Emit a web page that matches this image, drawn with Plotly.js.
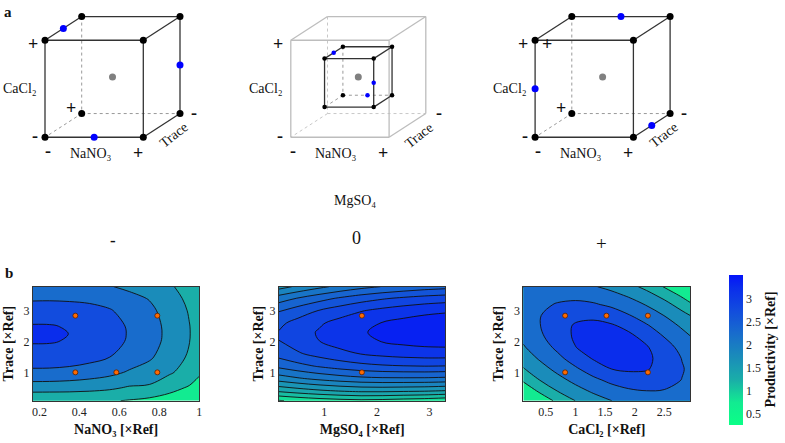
<!DOCTYPE html>
<html>
<head>
<meta charset="utf-8">
<script src="https://cdn.plot.ly/plotly-3.0.1.min.js"></script>
<style>html,body{margin:0;padding:0;background:#fff}#chart{width:785px;height:443px}</style>
</head>
<body>
<div id="chart"></div>
<script>
// ---------------- DATA ----------------
// Panel b, plot 1: Productivity vs NaNO3 (x) and Trace (y)
const p1X = [0.168, 0.25, 0.35, 0.45, 0.55, 0.65, 0.75, 0.85, 0.95, 1.0];
const p1Y = [0.08, 0.5, 1.0, 1.5, 2.0, 2.25, 2.5, 3.0, 3.4, 3.78];
const p1Z = [
  [1.033, 1.028, 1.05, 1.06, 1.04, 0.97, 0.88, 0.80, 0.72, 0.65],
  [1.741, 1.736, 1.711, 1.660, 1.584, 1.449, 1.417, 1.15, 0.95, 0.85],
  [2.386, 2.381, 2.341, 2.260, 2.139, 1.944, 1.807, 1.565, 1.286, 1.05],
  [2.816, 2.811, 2.761, 2.660, 2.509, 2.274, 2.067, 1.765, 1.436, 1.23],
  [3.031, 3.026, 2.971, 2.860, 2.694, 2.439, 2.197, 1.862, 1.511, 1.29],
  [3.058, 3.053, 2.997, 2.885, 2.717, 2.46, 2.213, 1.877, 1.52, 1.30],
  [3.028, 3.024, 2.970, 2.861, 2.698, 2.445, 2.202, 1.869, 1.514, 1.294],
  [2.788, 2.789, 2.750, 2.671, 2.543, 2.325, 2.112, 1.804, 1.464, 1.249],
  [2.423, 2.431, 2.415, 2.382, 2.307, 2.143, 1.975, 1.705, 1.388, 1.181],
  [2.1, 2.1, 2.1, 2.08, 2.03, 1.898, 1.792, 1.573, 1.286, 1.089]
];
const p1PtsX = [0.38, 0.79, 0.38, 0.585, 0.79];
const p1PtsY = [2.84, 2.84, 1.0, 1.0, 1.0];

// plot 2: Productivity vs MgSO4 (x) and Trace (y)
const p2X = [0.14, 0.5, 0.9, 1.3, 1.7, 2.1, 2.5, 2.9, 3.3];
const p2Y = [0.08, 0.4, 0.8, 1.2, 1.6, 2.0, 2.3, 2.6, 3.0, 3.4, 3.78];
const p2Z = [
  [0.731, 0.803, 0.868, 0.914, 0.941, 0.925, 0.888, 0.859, 0.809],
  [1.298, 1.380, 1.458, 1.517, 1.556, 1.559, 1.542, 1.525, 1.489],
  [1.876, 1.972, 2.064, 2.136, 2.190, 2.214, 2.218, 2.216, 2.195],
  [2.311, 2.418, 2.522, 2.607, 2.673, 2.715, 2.738, 2.749, 2.741],
  [2.601, 2.718, 2.833, 2.928, 3.006, 3.062, 3.100, 3.123, 3.127],
  [2.748, 2.873, 2.996, 3.101, 3.188, 3.256, 3.306, 3.339, 3.353],
  [2.763, 2.893, 3.023, 3.134, 3.226, 3.301, 3.358, 3.397, 3.418],
  [2.698, 2.832, 2.966, 3.082, 3.179, 3.259, 3.321, 3.366, 3.392],
  [2.484, 2.623, 2.762, 2.883, 2.986, 3.069, 3.135, 3.186, 3.218],
  [2.127, 2.268, 2.410, 2.535, 2.642, 2.725, 2.792, 2.847, 2.884],
  [1.654, 1.796, 1.940, 2.067, 2.176, 2.257, 2.321, 2.379, 2.419]
];
const p2PtsX = [1.715, 1.715];
const p2PtsY = [2.84, 1.0];

// plot 3: Productivity vs CaCl2 (x) and Trace (y)
const p3X = [0.12, 0.4, 0.7, 1.0, 1.3, 1.6, 1.9, 2.2, 2.5, 2.8, 2.94];
const p3Y = [0.08, 0.4, 0.75, 1.1, 1.45, 1.8, 2.15, 2.5, 2.85, 3.2, 3.5, 3.78];
const p3Z = [
  [0.405, 0.725, 1.098, 1.506, 1.768, 1.993, 2.147, 2.238, 2.255, 2.195, 2.144],
  [0.707, 1.076, 1.519, 1.818, 2.079, 2.282, 2.429, 2.497, 2.473, 2.362, 2.286],
  [1.061, 1.508, 1.839, 2.134, 2.387, 2.616, 2.780, 2.813, 2.703, 2.487, 2.382],
  [1.458, 1.799, 2.127, 2.419, 2.727, 2.994, 3.059, 3.031, 2.844, 2.537, 2.400],
  [1.726, 2.056, 2.373, 2.720, 3.034, 3.166, 3.194, 3.086, 2.850, 2.485, 2.338],
  [1.948, 2.257, 2.598, 2.987, 3.167, 3.333, 3.221, 3.048, 2.719, 2.358, 2.207],
  [2.108, 2.407, 2.769, 3.062, 3.209, 3.236, 3.105, 2.870, 2.492, 2.172, 2.023],
  [2.207, 2.486, 2.821, 3.046, 3.109, 3.068, 2.890, 2.561, 2.255, 1.940, 1.775],
  [2.239, 2.480, 2.736, 2.899, 2.914, 2.774, 2.527, 2.269, 1.989, 1.656, 1.495],
  [2.200, 2.390, 2.541, 2.609, 2.557, 2.413, 2.215, 1.972, 1.671, 1.290, 1.071],
  [2.113, 2.257, 2.348, 2.358, 2.286, 2.143, 1.942, 1.680, 1.344, 0.923, 0.750],
  [1.994, 2.100, 2.150, 2.129, 2.039, 1.877, 1.659, 1.363, 0.970, 0.623, 0.465]
];
const p3PtsX = [0.826, 1.524, 2.224, 0.826, 2.224];
const p3PtsY = [2.84, 2.84, 2.84, 1.0, 1.0];

// colour bar range and ticks
const cbMin = 0.27, cbMax = 3.52;
const cbTicks = [0.5, 1, 1.5, 2, 2.5, 3];
const cbTickText = ['0.5', '1', '1.5', '2', '2.5', '3'];

// axis ticks
const p1XTicks = [0.2, 0.4, 0.6, 0.8, 1];
const p1XTickText = ['0.2', '0.4', '0.6', '0.8', '1'];
const p2XTicks = [1, 2, 3];
const p3XTicks = [0.5, 1, 1.5, 2, 2.5];
const p3XTickText = ['0.5', '1', '1.5', '2', '2.5'];
const traceTicks = [1, 2, 3];

// Panel a: design cube (coded levels -1/0/+1 for NaNO3, CaCl2, Trace)
const cubeCorners = [[-1,-1,-1],[1,-1,-1],[1,1,-1],[-1,1,-1],[-1,-1,1],[1,-1,1],[1,1,1],[-1,1,1]];
const cubeEdges = [[0,1],[1,2],[2,3],[3,0],[4,5],[5,6],[6,7],[7,4],[0,4],[1,5],[2,6],[3,7]];
const centerPoint = [[0,0,0]];
const cube1Blue = [[-1,1,0],[1,0,-1],[0,-1,1]];
const cube2Blue = [[-0.5,0.5,0],[0.5,0,0.5],[0,-0.5,-0.5]];
const cube3Blue = [[0,1,-1],[-1,0,1],[1,-1,0]];

// ---------------- STYLE / HELPERS ----------------
const SERIF = '"Liberation Serif", "Times New Roman", serif';
const CMAP = [
  [0.00, [10, 255, 135]], [0.15, [18, 235, 145]], [0.30, [26, 174, 168]],
  [0.455, [26, 140, 186]], [0.61, [24, 108, 204]], [0.765, [18, 76, 222]],
  [0.92, [10, 44, 236]], [1.00, [4, 20, 250]]
];
function globalColor(v) {
  let f = (v - cbMin) / (cbMax - cbMin);
  f = Math.max(0, Math.min(1, f));
  for (let i = 1; i < CMAP.length; i++) {
    if (f <= CMAP[i][0]) {
      const a = CMAP[i-1], b = CMAP[i], t = (f - a[0]) / (b[0] - a[0]);
      const c = a[1].map((u, k) => Math.round(u + (b[1][k] - u) * t));
      return 'rgb(' + c.join(',') + ')';
    }
  }
  return 'rgb(' + CMAP[CMAP.length-1][1].join(',') + ')';
}
function bandScale(start, end, size) {
  const lo = start - size / 2, hi = end + size / 2, s = [];
  for (let i = 0; i <= 60; i++) { const f = i / 60; s.push([f, globalColor(lo + f * (hi - lo))]); }
  return s;
}
function barScale() {
  const s = [];
  for (let i = 0; i <= 60; i++) { const f = i / 60; s.push([f, globalColor(cbMin + f * (cbMax - cbMin))]); }
  return s;
}

// cube projection (oblique) into pixel frame
const HW = 49.15, HH = 48.5, DX = 18.35, DY = 11.85;
const CUBE_CX = [112.5, 358.3, 602.6], CUBE_CY = 76.9;
function proj(ci, p, sc) {
  return [CUBE_CX[ci] + p[0] * sc * HW - p[2] * sc * DX, CUBE_CY - p[1] * sc * HH + p[2] * sc * DY];
}
function edgeTrace(ci, sc, hidden, color, width, dash) {
  const xs = [], ys = [];
  cubeEdges.forEach(e => {
    const isHidden = (e[0] === 0 || e[1] === 0);
    if (isHidden !== hidden) return;
    const a = proj(ci, cubeCorners[e[0]], sc), b = proj(ci, cubeCorners[e[1]], sc);
    xs.push(a[0], b[0], null); ys.push(a[1], b[1], null);
  });
  return {type:'scatter', mode:'lines', x:xs, y:ys, xaxis:'x4', yaxis:'y4',
    line:{color:color, width:width, dash:dash}, hoverinfo:'skip', showlegend:false};
}
function pointTrace(ci, pts, sc, color, size) {
  const P = pts.map(p => proj(ci, p, sc));
  return {type:'scatter', mode:'markers', x:P.map(p=>p[0]), y:P.map(p=>p[1]), xaxis:'x4', yaxis:'y4',
    marker:{color:color, size:size, line:{width:0}}, hoverinfo:'skip', showlegend:false};
}

const traces = [];
function contourTrace(x, y, z, start, end, size, xa, ya) {
  return {type:'contour', x:x, y:y, z:z, xaxis:xa, yaxis:ya, autocontour:false,
    contours:{start:start, end:end, size:size, coloring:'fill', showlines:true},
    line:{color:'#111', width:0.9, smoothing:1},
    colorscale:bandScale(start, end, size), showscale:false, hoverinfo:'skip'};
}
function dotTrace(x, y, xa, ya) {
  return {type:'scatter', mode:'markers', x:x, y:y, xaxis:xa, yaxis:ya,
    marker:{size:5, color:'#ff6a00', line:{color:'#5a2000', width:0.8}}, hoverinfo:'skip', showlegend:false};
}
traces.push(contourTrace(p1X, p1Y, p1Z, 1.0, 3.0, 0.5, 'x', 'y'));
traces.push(dotTrace(p1PtsX, p1PtsY, 'x', 'y'));
traces.push(contourTrace(p2X, p2Y, p2Z, 0.75, 3.25, 0.25, 'x2', 'y2'));
traces.push(dotTrace(p2PtsX, p2PtsY, 'x2', 'y2'));
traces.push(contourTrace(p3X, p3Y, p3Z, 1.0, 3.0, 0.5, 'x3', 'y3'));
traces.push(dotTrace(p3PtsX, p3PtsY, 'x3', 'y3'));

// colour bar carrier (invisible markers)
traces.push({type:'scatter', mode:'markers', x:[0.5, 0.5], y:[2, 2], xaxis:'x', yaxis:'y',
  marker:{size:1, opacity:0, color:[cbMin, cbMax], cmin:cbMin, cmax:cbMax,
    colorscale:barScale(), showscale:true,
    colorbar:{x:729/785, xanchor:'left', xpad:0, thickness:14, thicknessmode:'pixels',
      len:149.6/443, lenmode:'fraction', y:1-349.5/443, yanchor:'middle', ypad:0,
      outlinewidth:0, ticks:'', tickvals:cbTicks, ticktext:cbTickText,
      tickfont:{family:SERIF, size:12, color:'#222'},
      title:{text:'<b>Productivity [×Ref]</b>', side:'right', font:{family:SERIF, size:14, color:'#111'}}}},
  hoverinfo:'skip', showlegend:false});

// cubes
traces.push(edgeTrace(0, 1, true, '#999', 1, 'dot'));
traces.push(edgeTrace(0, 1, false, '#333', 1.3, 'solid'));
traces.push(pointTrace(0, centerPoint, 1, '#808080', 7));
traces.push(pointTrace(0, cubeCorners, 1, '#000', 7));
traces.push(pointTrace(0, cube1Blue, 1, '#0000ff', 7));
traces.push(edgeTrace(1, 1, true, '#c8c8c8', 1, 'dot'));
traces.push(edgeTrace(1, 1, false, '#bdbdbd', 1.3, 'solid'));
traces.push(edgeTrace(1, 0.5, true, '#999', 1, 'dot'));
traces.push(edgeTrace(1, 0.5, false, '#333', 1.3, 'solid'));
traces.push(pointTrace(1, centerPoint, 1, '#808080', 7));
traces.push(pointTrace(1, cubeCorners, 0.5, '#000', 4.5));
traces.push(pointTrace(1, cube2Blue, 1, '#0000ff', 4.5));
traces.push(edgeTrace(2, 1, true, '#999', 1, 'dot'));
traces.push(edgeTrace(2, 1, false, '#333', 1.3, 'solid'));
traces.push(pointTrace(2, centerPoint, 1, '#808080', 7));
traces.push(pointTrace(2, cubeCorners, 1, '#000', 7));
traces.push(pointTrace(2, cube3Blue, 1, '#0000ff', 7));

// ---------------- LAYOUT ----------------
function ax(domain, range, tickvals, ticktext, title, standoff, anchor) {
  const a = {domain:domain, range:range, anchor:anchor, tickvals:tickvals, ticktext:ticktext,
    showline:true, mirror:true, linecolor:'#333', linewidth:1, ticks:'', showgrid:false, zeroline:false,
    tickfont:{family:SERIF, size:12, color:'#222'}, fixedrange:true};
  if (title) a.title = {text:title, font:{family:SERIF, size:14, color:'#111'}, standoff:standoff};
  return a;
}
const yDom = [1 - 400.7/443, 1 - 286.7/443];
const yRange = [0.08, 3.78];
const traceTitle = '<b>Trace [×Ref]</b>';

const ann = [];
function txt(x, y, text, size, opts) {
  ann.push(Object.assign({x:x, y:y, xref:'x4', yref:'y4', text:text, showarrow:false,
    font:{family:SERIF, size:size, color:'#111'}, xanchor:'center', yanchor:'middle'}, opts || {}));
}
CUBE_CX.forEach((cx, i) => {
  txt(cx - 80, 43.5, '<b>+</b>', 18);
  txt(cx - 78, 135.5, '<b>-</b>', 18);
  txt(cx - 111.5, 88, 'CaCl₂', 14, {xanchor:'left'});
  txt(cx - 65, 151, '<b>-</b>', 18);
  txt(cx - 22, 153.5, 'NaNO₃', 14);
  txt(cx + 25, 152.5, '<b>+</b>', 18);
  txt(cx + 60.5, 135, 'Trace', 14, {textangle:-38});
  txt(cx + 81, 112.5, '<b>-</b>', 18);
});
txt(CUBE_CX[0] - 41.5, 108.3, '<b>+</b>', 18);
txt(CUBE_CX[2] - 41.5, 108.3, '<b>+</b>', 18);
txt(CUBE_CX[2] - 56, 43.5, '<b>+</b>', 18);
txt(8.3, 11.5, '<b>a</b>', 15);
txt(9.3, 273, '<b>b</b>', 15);
txt(355, 200, 'MgSO₄', 14);
txt(112.7, 240, '<b>-</b>', 17);
txt(356.7, 238, '0', 18);
txt(601.7, 243.5, '+', 19);

const layout = {
  width:785, height:443, margin:{l:0, r:0, t:0, b:0},
  paper_bgcolor:'#fff', plot_bgcolor:'rgba(0,0,0,0)', showlegend:false,
  font:{family:SERIF, color:'#111'},
  xaxis: ax([33/785, 199.3/785], [0.168, 1.0], p1XTicks, p1XTickText, '<b>NaNO₃ [×Ref]</b>', 6, 'y'),
  yaxis: ax(yDom, yRange, traceTicks, ['1','2','3'], traceTitle, 6, 'x'),
  xaxis2: ax([279/785, 445.3/785], [0.14, 3.3], p2XTicks, ['1','2','3'], '<b>MgSO₄ [×Ref]</b>', 6, 'y2'),
  yaxis2: ax(yDom, yRange, traceTicks, ['1','2','3'], traceTitle, 2, 'x2'),
  xaxis3: ax([523.3/785, 690.3/785], [0.12, 2.94], p3XTicks, p3XTickText, '<b>CaCl₂ [×Ref]</b>', 6, 'y3'),
  yaxis3: ax(yDom, yRange, traceTicks, ['1','2','3'], traceTitle, 6, 'x3'),
  xaxis4: {domain:[0,1], range:[0,785], visible:false, fixedrange:true, anchor:'y4'},
  yaxis4: {domain:[0,1], range:[443,0], visible:false, fixedrange:true, anchor:'x4'},
  annotations: ann
};

Plotly.newPlot('chart', traces, layout, {staticPlot:true, displayModeBar:false});
</script>
</body>
</html>
